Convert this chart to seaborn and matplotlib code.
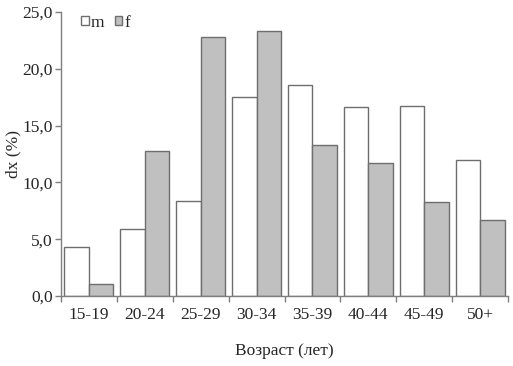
import pandas as pd
import matplotlib
matplotlib.use('Agg')
import matplotlib.pyplot as plt
import seaborn as sns
from matplotlib.ticker import FuncFormatter, FixedLocator

# data
age_groups = ['15-19', '20-24', '25-29', '30-34', '35-39', '40-44', '45-49', '50+']
dx_m = [4.3, 5.9, 8.4, 17.5, 18.6, 16.6, 16.7, 12.0]
dx_f = [1.1, 12.8, 22.8, 23.3, 13.3, 11.7, 8.3, 6.7]

df = pd.DataFrame({
    'age': age_groups * 2,
    'dx': dx_m + dx_f,
    'sex': ['m'] * len(age_groups) + ['f'] * len(age_groups),
})

sns.set_style('white')
plt.rcParams['font.family'] = ['Liberation Serif', 'DejaVu Serif']

fig = plt.figure(figsize=(5.13, 3.66), dpi=100)
ax = fig.add_axes([61 / 513, 70 / 366, 447 / 513, 284 / 366])

sns.barplot(data=df, x='age', y='dx', hue='sex', order=age_groups,
            palette={'m': 'white', 'f': '#c0c0c0'}, edgecolor='#6e6e6e',
            linewidth=1.0, width=0.875, ax=ax)

ax.set_xlim(-0.5, len(age_groups) - 0.5)
ax.set_ylim(0, 25)
ax.set_yticks([0, 5, 10, 15, 20, 25])
ax.yaxis.set_major_formatter(FuncFormatter(lambda v, p: f'{v:.1f}'.replace('.', ',')))

# ticks between categories, labels at centers
ax.xaxis.set_minor_locator(FixedLocator([i + 0.5 for i in range(-1, len(age_groups))]))
ax.tick_params(axis='x', which='major', length=0, pad=8, labelsize=12.5, colors='#262626')
ax.tick_params(axis='x', which='minor', length=4, width=1, direction='out', color='#7f7f7f', bottom=True)
ax.tick_params(axis='y', length=4, width=1, direction='out', color='#7f7f7f', left=True,
               labelsize=12.5, labelcolor='#262626', pad=2)

for s in ['top', 'right']:
    ax.spines[s].set_visible(False)
for s in ['left', 'bottom']:
    ax.spines[s].set_color('#7f7f7f')
    ax.spines[s].set_linewidth(1.0)

ax.set_xlabel('Возраст (лет)', fontsize=12.5, color='#262626', labelpad=14)
ax.set_ylabel('dx (%)', fontsize=12.5, color='#262626', labelpad=1)

leg = ax.legend(loc='upper left', bbox_to_anchor=(0.045, 0.99), ncol=2, frameon=False,
                fontsize=12.5, handlelength=0.45, handleheight=0.45, handletextpad=0.1,
                columnspacing=0.6, borderaxespad=0, borderpad=0)
for h in leg.legend_handles:
    h.set_edgecolor('#6e6e6e')

fig.savefig('out.png', dpi=100)
